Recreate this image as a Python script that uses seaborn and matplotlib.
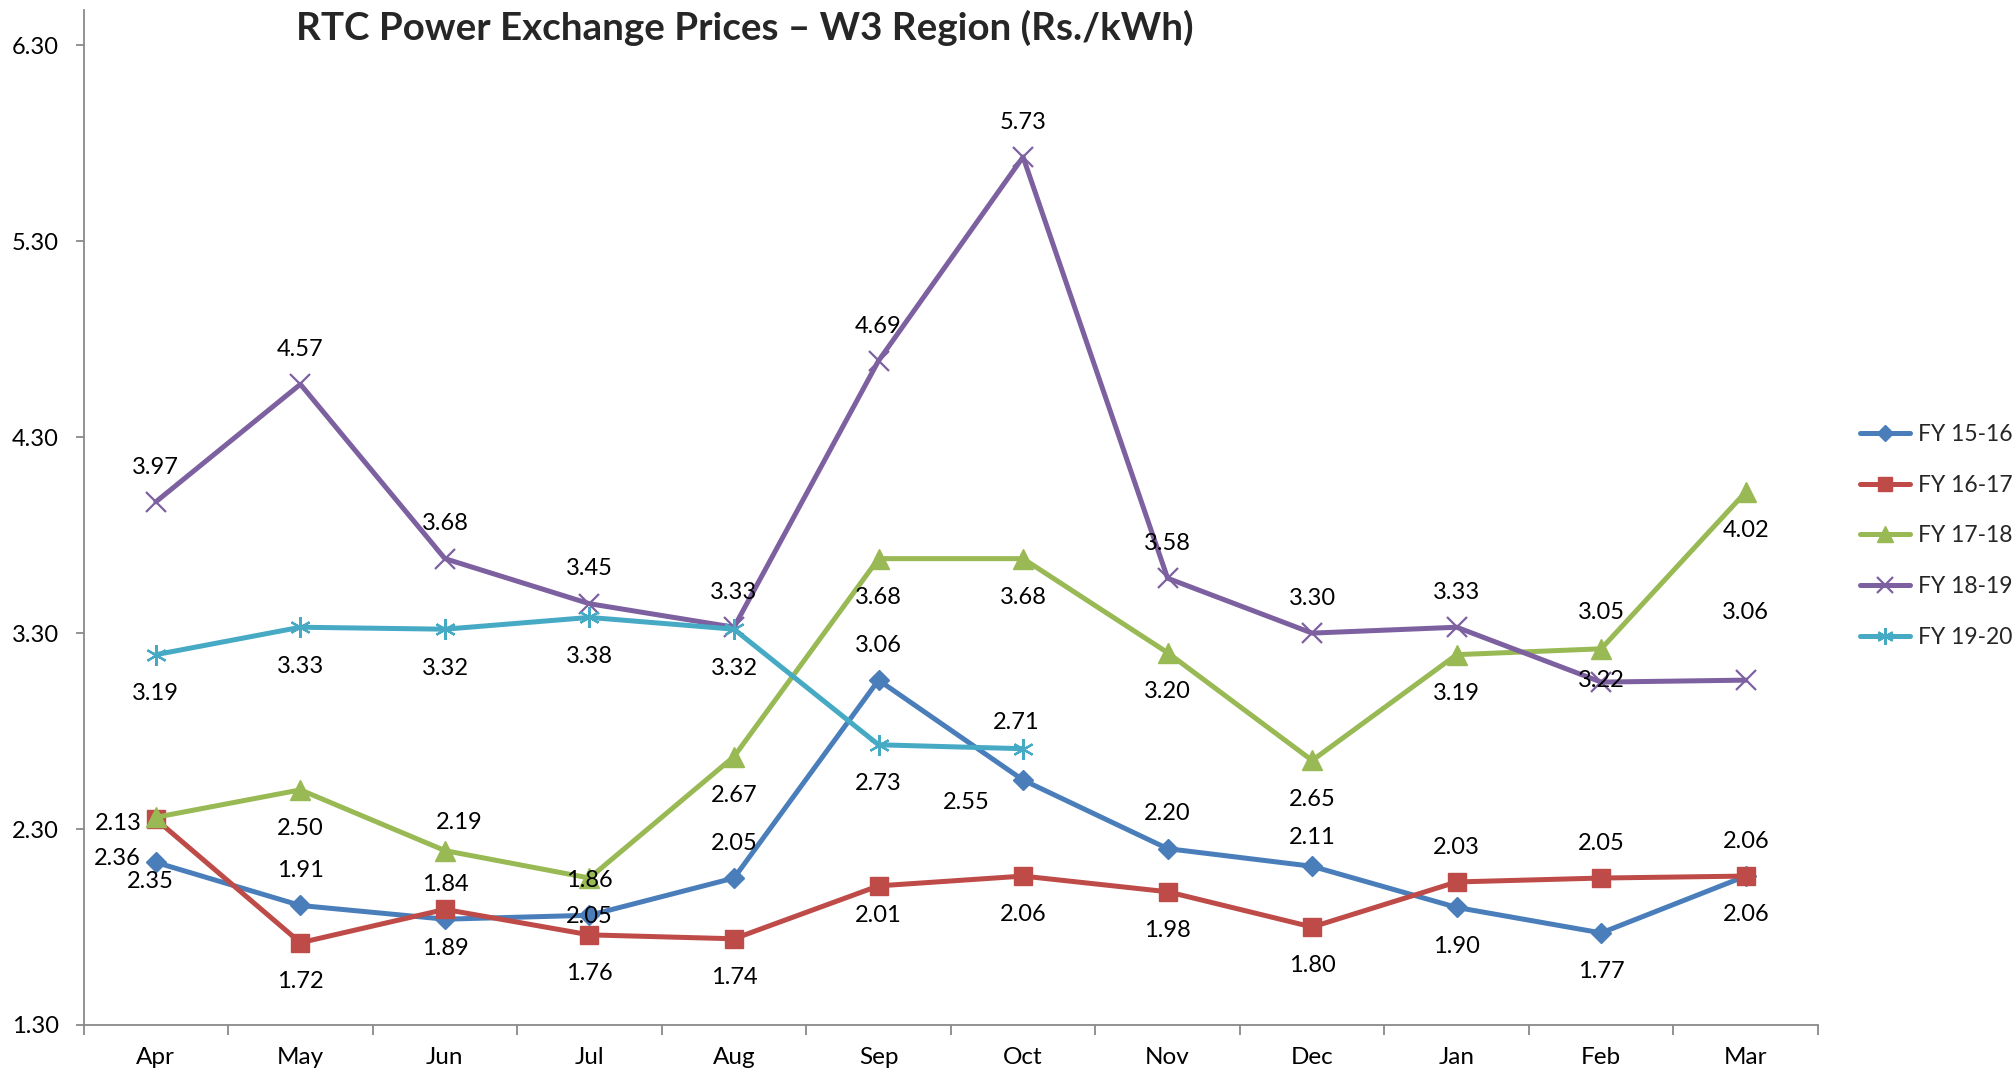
import numpy as np
import pandas as pd
import matplotlib
matplotlib.use("Agg")
import matplotlib.pyplot as plt
import seaborn as sns

# ---------------- data ----------------
months = ["Apr", "May", "Jun", "Jul", "Aug", "Sep", "Oct", "Nov", "Dec", "Jan", "Feb", "Mar"]
series_names = ["FY 15-16", "FY 16-17", "FY 17-18", "FY 18-19", "FY 19-20"]
fy1516 = [2.13, 1.91, 1.84, 1.86, 2.05, 3.06, 2.55, 2.20, 2.11, 1.90, 1.77, 2.06]
fy1617 = [2.35, 1.72, 1.89, 1.76, 1.74, 2.01, 2.06, 1.98, 1.80, 2.03, 2.05, 2.06]
fy1718 = [2.36, 2.50, 2.19, 2.05, 2.67, 3.68, 3.68, 3.20, 2.65, 3.19, 3.22, 4.02]
fy1819 = [3.97, 4.57, 3.68, 3.45, 3.33, 4.69, 5.73, 3.58, 3.30, 3.33, 3.05, 3.06]
fy1920 = [3.19, 3.33, 3.32, 3.38, 3.32, 2.73, 2.71, None, None, None, None, None]
yticks = [1.30, 2.30, 3.30, 4.30, 5.30, 6.30]
title = "RTC Power Exchange Prices \u2013 W3 Region (Rs./kWh)"

values = [fy1516, fy1617, fy1718, fy1819, fy1920]

rows = []
for name, vals in zip(series_names, values):
    for i, v in enumerate(vals):
        if v is not None:
            rows.append({"series": name, "idx": i, "month": months[i], "price": v})
df = pd.DataFrame(rows)

# ---------------- styles ----------------
colors = {"FY 15-16": "#4A7EBB", "FY 16-17": "#BE4B48", "FY 17-18": "#98B954",
          "FY 18-19": "#7D60A0", "FY 19-20": "#46AAC5"}
markers = {"FY 15-16": "D", "FY 16-17": "s", "FY 17-18": "^",
           "FY 18-19": "x", "FY 19-20": (6, 2, 0)}
msizes = {"FY 15-16": 10, "FY 16-17": 13, "FY 17-18": 14, "FY 18-19": 14, "FY 19-20": 15}
mews = {"FY 15-16": 1, "FY 16-17": 1, "FY 17-18": 1, "FY 18-19": 1.6, "FY 19-20": 1.6}

# default label side per series (per month), plus individual nudges (points)
side = {
    "FY 15-16": ["a"] * 9 + ["b"] * 3,
    "FY 16-17": ["b"] * 9 + ["a"] * 3,
    "FY 17-18": ["b"] * 12,
    "FY 18-19": ["a"] * 12,
    "FY 19-20": ["b"] * 6 + ["a"],
}
nudges = {
    ("FY 15-16", 0): (-27, 28),
    ("FY 17-18", 0): (-28, -30),
    ("FY 16-17", 0): (-4, -45),
    ("FY 17-18", 2): (10, 20),
    ("FY 15-16", 6): (-41, -16),
    ("FY 19-20", 6): (-5, 19),
    ("FY 18-19", 10): (0, 50),
    ("FY 18-19", 11): (0, 49),
    ("FY 15-16", 8): (0, 21),
    ("FY 16-17", 5): (0, -21),
    ("FY 17-18", 10): (0, -23),
}

sns.set_theme(style="white")
plt.rcParams["font.family"] = ["Lato", "DejaVu Sans"]

fig = plt.figure(figsize=(20.14, 10.76), dpi=100)
ax = fig.add_axes([0.0415, 0.0474, 0.8612, 0.9433])

for name in series_names:
    d = df[df["series"] == name]
    c = colors[name]
    sns.lineplot(data=d, x="idx", y="price", ax=ax, color=c, linewidth=3.6,
                 marker=markers[name], markersize=msizes[name],
                 markeredgecolor=c, markerfacecolor=c, markeredgewidth=mews[name],
                 label=name, sort=False)
    for _, r in d.iterrows():
        i = int(r["idx"])
        dx, dy = nudges.get((name, i), (0, 25 if side[name][i] == "a" else -28))
        ax.annotate(f"{r['price']:.2f}", (r["idx"], r["price"]), xytext=(dx, dy),
                    textcoords="offset points", ha="center", va="center",
                    fontsize=17, color="black")

ax.set_xlim(-0.5, 11.5)
ax.set_ylim(1.30, 6.48)
ax.set_xticks(range(len(months)))
ax.set_xticklabels(months)
ax.set_xticks(np.arange(-0.5, 12, 1.0), minor=True)
ax.set_yticks(yticks)
ax.set_yticklabels([f"{t:.2f}" for t in yticks])
ax.set_xlabel("")
ax.set_ylabel("")

axis_col = "#898989"
for s in ["top", "right"]:
    ax.spines[s].set_visible(False)
for s in ["left", "bottom"]:
    ax.spines[s].set_color(axis_col)
    ax.spines[s].set_linewidth(1.3)
ax.tick_params(axis="x", which="major", length=0, pad=16, labelsize=17.5, labelcolor="black")
ax.tick_params(axis="x", which="minor", length=7, width=1.3, color=axis_col, direction="out", bottom=True)
ax.tick_params(axis="y", which="major", length=6, width=1.3, color=axis_col, direction="out",
               pad=12, labelsize=17, labelcolor="black", left=True)
ax.grid(False)

leg = ax.legend(loc="center left", bbox_to_anchor=(0.9235, 0.502), bbox_transform=fig.transFigure,
                frameon=False, fontsize=16.5, handlelength=2.2, handletextpad=0.35,
                labelspacing=1.3, borderpad=0, borderaxespad=0, markerscale=0.8)

fig.text(0.370, 0.974, title, ha="center", va="center", fontsize=27.7, fontweight="bold")

fig.savefig("out.png", dpi=100)
